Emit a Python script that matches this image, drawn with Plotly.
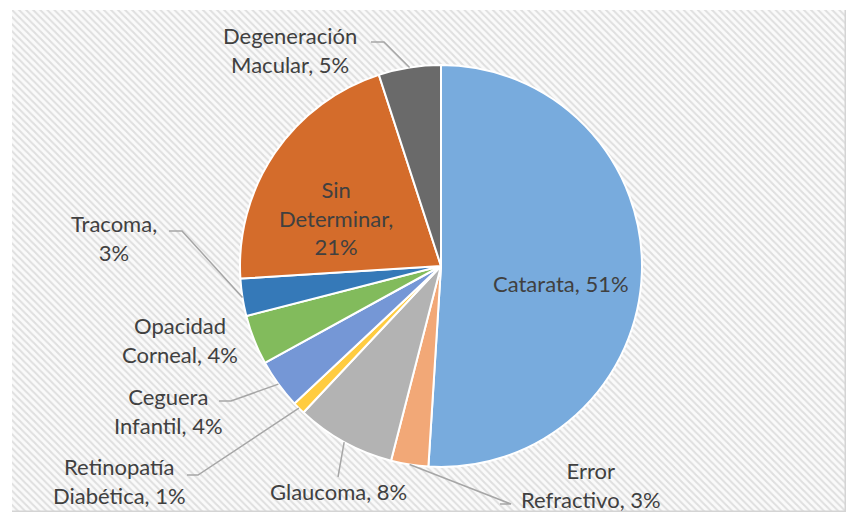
import math
import plotly.graph_objects as go

# ---- data ----
categories = ["Catarata", "Error Refractivo", "Glaucoma", "Retinopatía Diabética",
              "Ceguera Infantil", "Opacidad Corneal", "Tracoma", "Sin Determinar",
              "Degeneración Macular"]
values = [51, 3, 8, 1, 4, 4, 3, 21, 5]
label_text = ["Catarata, 51%", "Error<br>Refractivo, 3%", "Glaucoma, 8%",
              "Retinopatía<br>Diabética, 1%", "Ceguera<br>Infantil, 4%",
              "Opacidad<br>Corneal, 4%", "Tracoma,<br>3%", "Sin<br>Determinar,<br>21%",
              "Degeneración<br>Macular, 5%"]
colors = ["#78abdd", "#f2a877", "#b3b3b3", "#ffcc40", "#7597d6",
          "#82bb5c", "#3579b8", "#d46c2b", "#6a6a6a"]

OFF = 8                      # browser body margin
W, H = 854 - OFF, 517 - OFF  # figure size
CX, CY, R = 441, 266, 201    # pie centre / radius in page px


def px(x):
    return (x - OFF) / W


def py(y):
    return 1 - (y - OFF) / H


fig = go.Figure()

# patterned chart-area background
fig.add_trace(go.Bar(
    x=[0], y=[1], width=[1], hoverinfo="skip", showlegend=False,
    marker=dict(color="white", line=dict(color="#d4d4d4", width=1.5),
                pattern=dict(shape="\\", fgcolor="#c4c4c4", bgcolor="#fafafa",
                             size=5, solidity=0.4)),
    xaxis="x", yaxis="y"))

fig.add_trace(go.Pie(
    labels=categories, values=values, sort=False, direction="clockwise",
    rotation=0, hole=0,
    marker=dict(colors=colors, line=dict(color="white", width=2)),
    textinfo="none", hoverinfo="label+percent", showlegend=False,
    domain=dict(x=[px(CX - R), px(CX + R)], y=[py(CY + R), py(CY - R)])))

# label placements (page px) and leader-line elbows
label_pos = {
    "Catarata": (561, 283, None),
    "Error Refractivo": (591, 485, (511, 504)),
    "Glaucoma": (338, 491, (338, 477)),
    "Retinopatía Diabética": (119, 481, (198, 475)),
    "Ceguera Infantil": (168, 411, (231, 401)),
    "Opacidad Corneal": (180, 340, None),
    "Tracoma": (114, 238, (182, 231)),
    "Sin Determinar": (336, 218, None),
    "Degeneración Macular": (290, 50, (384, 42)),
}
elbow_start = {
    "Error Refractivo": (500, 504),
    "Retinopatía Diabética": (187, 475),
    "Ceguera Infantil": (219, 401),
    "Tracoma": (169, 231),
    "Degeneración Macular": (371, 42),
}

total = sum(values)
cum = 0
shapes = []
annotations = []
for cat, v, txt in zip(categories, values, label_text):
    mid = (cum + v / 2) / total
    cum += v
    ang = math.radians(90 - 360 * mid)
    ex, ey = CX + R * math.cos(ang), CY - R * math.sin(ang)
    lx, ly, elbow = label_pos[cat]
    annotations.append(dict(x=px(lx), y=py(ly), xref="paper", yref="paper",
                            xanchor="center", yanchor="middle",
                            text=txt, showarrow=False, align="center",
                            font=dict(family="Lato, Open Sans, sans-serif",
                                      size=22, color="#404040")))
    if elbow is not None:
        pts = []
        if cat in elbow_start:
            pts.append(elbow_start[cat])
        pts.append(elbow)
        pts.append((ex, ey))
        path = "M " + " L ".join(f"{px(a):.5f},{py(b):.5f}" for a, b in pts)
        shapes.append(dict(type="path", path=path, xref="paper", yref="paper",
                           line=dict(color="#a6a6a6", width=1.5), layer="above"))

fig.update_layout(
    width=W, height=H, margin=dict(l=0, r=0, t=0, b=0),
    paper_bgcolor="white", plot_bgcolor="rgba(0,0,0,0)",
    xaxis=dict(domain=[px(12), px(846)], range=[-0.5, 0.5], visible=False, fixedrange=True),
    yaxis=dict(domain=[py(512), py(10)], range=[0, 1], visible=False, fixedrange=True),
    bargap=0, shapes=shapes, annotations=annotations,
)

fig.write_html("out.html")
